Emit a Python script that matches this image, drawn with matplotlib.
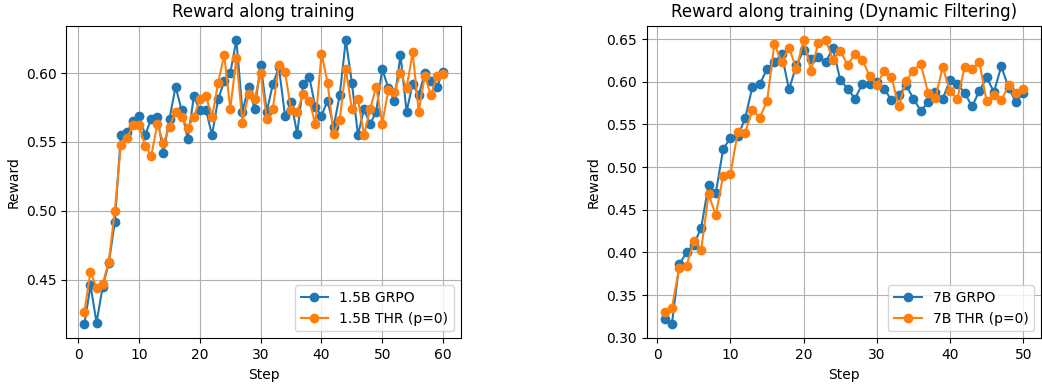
import matplotlib
matplotlib.use("Agg")
import matplotlib.pyplot as plt

# 1.5B run (60 steps)
steps_15b = list(range(1, 61))
grpo_15b = [0.418, 0.446, 0.419, 0.445, 0.462, 0.492, 0.555, 0.557, 0.565, 0.569,
            0.555, 0.567, 0.568, 0.542, 0.567, 0.590, 0.573, 0.552, 0.583, 0.573,
            0.573, 0.555, 0.581, 0.594, 0.600, 0.624, 0.572, 0.590, 0.574, 0.606,
            0.572, 0.592, 0.604, 0.569, 0.579, 0.556, 0.592, 0.597, 0.575, 0.569,
            0.580, 0.561, 0.584, 0.624, 0.593, 0.555, 0.574, 0.563, 0.572, 0.603,
            0.589, 0.580, 0.613, 0.572, 0.592, 0.584, 0.600, 0.594, 0.590, 0.601]
thr_15b = [0.427, 0.456, 0.444, 0.447, 0.463, 0.500, 0.548, 0.553, 0.562, 0.562,
           0.547, 0.540, 0.563, 0.549, 0.561, 0.572, 0.568, 0.560, 0.568, 0.581,
           0.583, 0.568, 0.593, 0.613, 0.574, 0.611, 0.564, 0.585, 0.581, 0.600,
           0.567, 0.574, 0.606, 0.601, 0.573, 0.572, 0.585, 0.580, 0.563, 0.614,
           0.593, 0.556, 0.566, 0.603, 0.574, 0.581, 0.555, 0.574, 0.590, 0.563,
           0.588, 0.586, 0.600, 0.589, 0.615, 0.572, 0.598, 0.584, 0.598, 0.599]

# 7B run with dynamic filtering (50 steps)
steps_7b = list(range(1, 51))
grpo_7b = [0.322, 0.316, 0.386, 0.400, 0.409, 0.429, 0.479, 0.470, 0.521, 0.534,
           0.536, 0.557, 0.594, 0.597, 0.615, 0.623, 0.632, 0.591, 0.619, 0.637,
           0.627, 0.629, 0.623, 0.639, 0.602, 0.592, 0.580, 0.597, 0.597, 0.600,
           0.592, 0.578, 0.584, 0.596, 0.580, 0.566, 0.576, 0.588, 0.580, 0.602,
           0.597, 0.587, 0.571, 0.589, 0.605, 0.588, 0.618, 0.593, 0.576, 0.587]
thr_7b = [0.330, 0.335, 0.382, 0.384, 0.413, 0.403, 0.468, 0.444, 0.490, 0.492,
          0.541, 0.540, 0.567, 0.558, 0.577, 0.644, 0.623, 0.640, 0.615, 0.649,
          0.613, 0.645, 0.649, 0.626, 0.636, 0.620, 0.632, 0.626, 0.607, 0.596,
          0.613, 0.605, 0.571, 0.601, 0.613, 0.621, 0.587, 0.581, 0.617, 0.589,
          0.580, 0.617, 0.615, 0.623, 0.577, 0.584, 0.578, 0.596, 0.587, 0.592]

fig = plt.figure(figsize=(10.42, 3.85), dpi=100)
ax1 = fig.add_axes([0.0638, 0.1213, 0.3786, 0.812])
ax2 = fig.add_axes([0.6206, 0.1213, 0.3786, 0.812])

ax1.plot(steps_15b, grpo_15b, marker='o', label='1.5B GRPO')
ax1.plot(steps_15b, thr_15b, marker='o', label='1.5B THR (p=0)')
ax1.set_title('Reward along training')
ax1.set_xlabel('Step')
ax1.set_ylabel('Reward')
ax1.grid(True)
ax1.legend(loc='lower right')

ax2.plot(steps_7b, grpo_7b, marker='o', label='7B GRPO')
ax2.plot(steps_7b, thr_7b, marker='o', label='7B THR (p=0)')
ax2.set_title('Reward along training (Dynamic Filtering)')
ax2.set_xlabel('Step')
ax2.set_ylabel('Reward')
ax2.grid(True)
ax2.legend(loc='lower right')

fig.savefig('out.png', dpi=100)
